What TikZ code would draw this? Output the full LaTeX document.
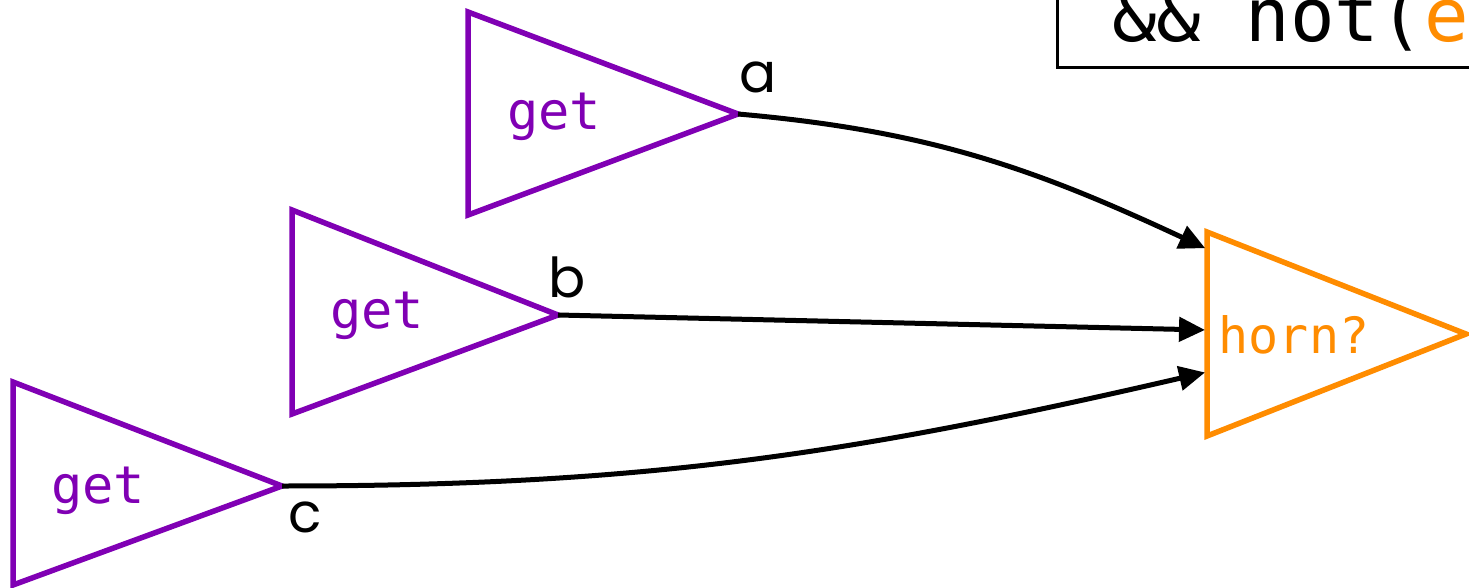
\documentclass[tikz,border=0pt]{standalone}
\usepackage{fontspec}
\usetikzlibrary{arrows.meta}
\newfontfamily\monofont{DejaVu Sans Mono}
\newfontfamily\labelfont{Poppins}
\definecolor{getpurple}{RGB}{128,0,180}
\definecolor{hornorange}{RGB}{255,140,0}
\tikzset{
  tri/.style={line width=5.5pt, line join=miter},
  gettri/.style={tri, draw=getpurple},
  horntri/.style={tri, draw=hornorange},
  gettext/.style={font=\monofont\fontsize{52}{52}\selectfont, text=getpurple, inner sep=0pt, anchor=base},
  horntext/.style={font=\monofont\fontsize{50}{50}\selectfont, text=hornorange, inner sep=0pt, anchor=base},
  wirelabel/.style={font=\labelfont\fontsize{55}{55}\selectfont, inner sep=0pt, anchor=base},
  boxtext/.style={font=\monofont\fontsize{74}{74}\selectfont, inner sep=0pt, anchor=base west},
  wire/.style={line width=5pt, -{Triangle[length=26pt,width=24pt]}, shorten >=2pt},
}
\begin{document}
\begin{tikzpicture}[x=1pt,y=-1pt]
\useasboundingbox (0,0) rectangle (1469,588);
\fill[white] (0,0) rectangle (1469,588);
% partial text cut off at top left
\node[boxtext, anchor=base] (tl1) at (220,-25) {g};
\node[boxtext, anchor=base] (tl2) at (315,-19) {)};
% top right box
\draw[line width=3pt] (1057,-40) -- (1057,68) -- (1520,68);
\node[boxtext] (cond) at (1112,42) {\&\& not(\textcolor{hornorange}{e}};
% get triangles
\draw[gettri] (468,12) -- (738,114) -- (468,215) -- cycle;
\coordinate (aout) at (738,114);
\node[gettext] (geta) at (554,130) {get};
\draw[gettri] (292,210) -- (558,315) -- (292,414) -- cycle;
\coordinate (bout) at (558,315);
\node[gettext] (getb) at (377,328) {get};
\draw[gettri] (13,382) -- (282,486) -- (13,585) -- cycle;
\coordinate (cout) at (282,486);
\node[gettext] (getc) at (98,503) {get};
% horn triangle
\draw[horntri] (1207,232) -- (1466,334) -- (1207,436) -- cycle;
\coordinate (hina) at (1207,249);
\coordinate (hinb) at (1207,330);
\coordinate (hinc) at (1207,372);
\node[horntext] (horn) at (1294,353) {horn?};
% wire labels
\node[wirelabel] (la) at (758,93) {a};
\node[wirelabel] (lb) at (567,297) {b};
\node[wirelabel] (lc) at (305,532) {c};
% wires
\draw[wire] (aout) to[out=-5,in=155] (hina);
\draw[wire] (bout) -- (hinb);
\draw[wire] (cout) to[out=0,in=-167] (hinc);
\end{tikzpicture}
\end{document}
